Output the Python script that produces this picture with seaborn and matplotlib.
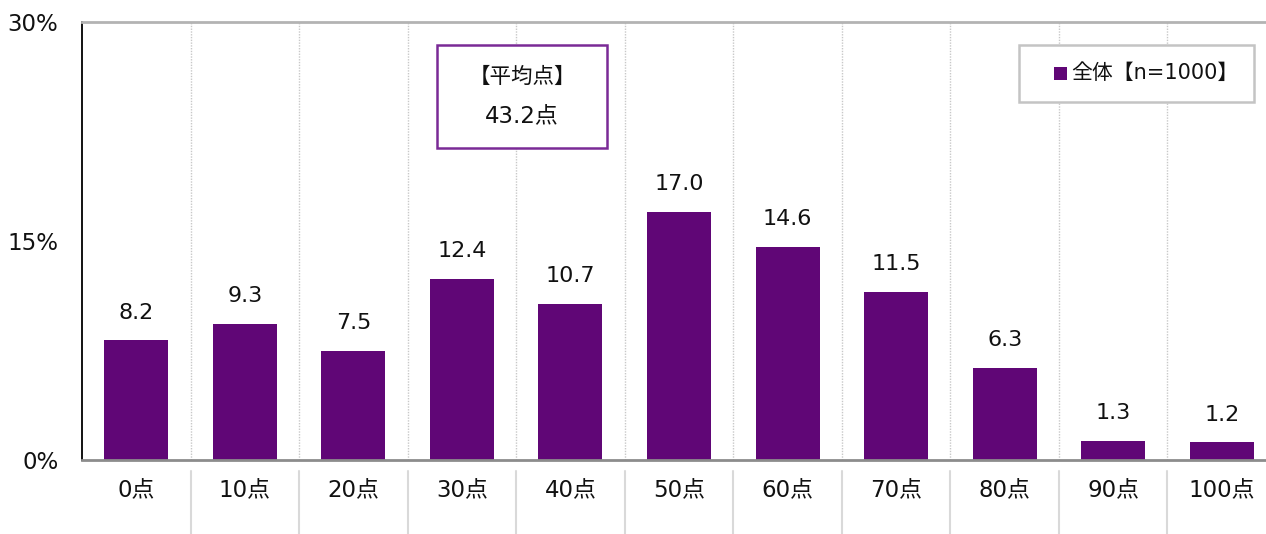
import matplotlib
matplotlib.use("Agg")
import matplotlib.pyplot as plt
import matplotlib.transforms as mtransforms
from matplotlib.patches import Rectangle
import seaborn as sns
import pandas as pd

# Score distribution (share of respondents, %)
categories = ["0点", "10点", "20点", "30点", "40点", "50点", "60点", "70点", "80点", "90点", "100点"]
shares = [8.2, 9.3, 7.5, 12.4, 10.7, 17.0, 14.6, 11.5, 6.3, 1.3, 1.2]
y_ticks = [0, 15, 30]
y_tick_labels = ["0%", "15%", "30%"]
legend_label = "全体【n=1000】"
mean_title = "【平均点】"
mean_value = "43.2点"

BAR_COLOR = "#600676"
BOX_EDGE = "#7a2a96"
TEXT = "#111111"

sns.set_style("white")
plt.rcParams["font.family"] = ["DejaVu Sans", "Noto Sans CJK JP"]

W, H = 1266, 534
fig = plt.figure(figsize=(W / 100, H / 100), dpi=100)
ax = fig.add_axes([82 / W, (H - 460) / H, (1276 - 82) / W, (460 - 22) / H])

df = pd.DataFrame({"score": categories, "share": shares})
sns.barplot(data=df, x="score", y="share", color=BAR_COLOR, saturation=1,
            width=0.59, linewidth=0, ax=ax)

n = len(categories)
ax.set_xlim(-0.5, n - 0.5)
ax.set_ylim(0, 30)
ax.set_xlabel("")
ax.set_ylabel("")

# value labels above bars
for i, v in enumerate(shares):
    ax.annotate(f"{v:.1f}", (i, v), xytext=(0, 20), textcoords="offset points",
                ha="center", va="center", fontsize=16, color=TEXT)

# axes styling
ax.set_yticks(y_ticks)
ax.set_yticklabels(y_tick_labels, fontsize=16.5, color=TEXT)
ax.tick_params(axis="y", length=0, pad=17)
ax.set_xticks(range(n))
ax.set_xticklabels(categories, fontsize=16.5, color=TEXT)
ax.tick_params(axis="x", which="major", length=0, pad=14)
bounds = [i - 0.5 for i in range(n + 1)]
ax.set_xticks(bounds, minor=True)
ax.tick_params(axis="x", which="minor", length=4, width=1.3, color="#8c8c8c", direction="out")

ax.spines["left"].set_color("#000000")
ax.spines["left"].set_linewidth(1.3)
ax.spines["bottom"].set_color("#8c8c8c")
ax.spines["bottom"].set_linewidth(2)
ax.spines["top"].set_color("#b3b3b3")
ax.spines["top"].set_linewidth(2)
ax.spines["right"].set_visible(False)

# dotted separators between categories inside the plot
for b in bounds[1:-1]:
    ax.axvline(b, color="#c8c8c8", lw=1, ls=(0, (1, 1)), zorder=0)

# solid separators below the axis
trans = mtransforms.blended_transform_factory(ax.transData, ax.transAxes)
for b in bounds[1:]:
    ax.plot([b, b], [-11 / 438, -80 / 438], transform=trans, color="#d9d9d9",
            lw=1.5, clip_on=False)

# mean score box
ax.add_patch(Rectangle((437 / W, (H - 148) / H), 170 / W, 103 / H,
                       transform=fig.transFigure, fill=True, facecolor="white",
                       edgecolor=BOX_EDGE, lw=1.8, zorder=5))
fig.text(522 / W, (H - 77) / H, mean_title, ha="center", va="center",
         fontsize=15.5, color=TEXT, zorder=6,
         family=["Noto Sans CJK JP", "DejaVu Sans"])
fig.text(522 / W, (H - 117) / H, mean_value, ha="center", va="center",
         fontsize=16.5, color=TEXT, zorder=6)

# legend box
ax.add_patch(Rectangle((1019 / W, (H - 102) / H), 235 / W, 57 / H,
                       transform=fig.transFigure, facecolor="white",
                       edgecolor="#c4c4c4", lw=1.8, zorder=5))
fig.patches.append(Rectangle((1054 / W, (H - 80) / H), 13 / W, 13 / H,
                             transform=fig.transFigure, facecolor=BAR_COLOR,
                             edgecolor="none", zorder=6))
fig.text(1071 / W, (H - 73) / H, legend_label, ha="left", va="center",
         fontsize=15, color=TEXT, zorder=6)

fig.savefig("out.png", dpi=100)
